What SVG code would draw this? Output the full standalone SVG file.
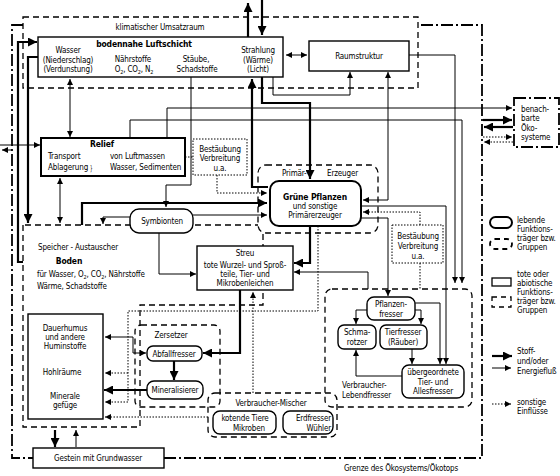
<svg xmlns="http://www.w3.org/2000/svg" width="560" height="476" viewBox="0 0 560 476">
<defs>
<style>
text{font-family:"Liberation Sans Narrow","DejaVu Sans Condensed","Liberation Sans",sans-serif;font-size:8px;letter-spacing:-0.15px;fill:#000}
.c{text-anchor:middle}
.e{text-anchor:end}
.b{font-weight:bold;font-size:8.5px}
.t{fill:none;stroke:#000;stroke-width:1}
.k{fill:none;stroke:#000;stroke-width:2.2}
.d{fill:none;stroke:#000;stroke-width:1.3;stroke-dasharray:6 4}
.o{fill:none;stroke:#000;stroke-width:1;stroke-dasharray:1.5 1.5}
.dd{fill:none;stroke:#000;stroke-width:1.8;stroke-dasharray:12 3 2 3}
.box{fill:#fff;stroke:#000;stroke-width:1.4}
.bx2{fill:#fff;stroke:#000;stroke-width:2}
.ob{fill:#fff;stroke:#000;stroke-width:1;stroke-dasharray:1.5 1.5}
.db{fill:none;stroke:#000;stroke-width:1.3;stroke-dasharray:6 4}
</style>
<marker id="a" viewBox="0 0 10 10" refX="10" refY="5" markerWidth="7" markerHeight="6" orient="auto-start-reverse" markerUnits="userSpaceOnUse"><path d="M0,0L10,5L0,10z"/></marker>
<marker id="A" viewBox="0 0 10 10" refX="10" refY="5" markerWidth="11" markerHeight="9" orient="auto-start-reverse" markerUnits="userSpaceOnUse"><path d="M0,0L10,5L0,10z"/></marker>
</defs>

<!-- boundaries -->
<g id="boundary">
<path class="dd" d="M23 25H12V458H33"/>
<path class="dd" d="M164 458H482V25H418"/>
<text class="c" x="401" y="471">Grenze des Ökosystems/Ökotops</text>
</g>
<g id="klima">
<rect class="db" x="23" y="17" width="395" height="71"/>
<text class="c" x="160" y="30">klimatischer Umsatzraum</text>
</g>
<g id="boden-zone">
<path class="d" d="M25 225H258M23 225V427H140V305H263V291M263 234V246"/>
<text x="38" y="250">Speicher - Austauscher</text>
<text class="c b" x="69" y="264">Boden</text>
<text x="37" y="277">für Wasser, O<tspan dy="2" font-size="5.5">2</tspan><tspan dy="-2">, CO</tspan><tspan dy="2" font-size="5.5">2</tspan><tspan dy="-2">, Nährstoffe</tspan></text>
<text x="37" y="289">Wärme, Schadstoffe</text>
</g>

<!-- connectors -->
<g id="connectors">
<path class="k" d="M248 37V3" marker-end="url(#A)"/>
<path class="k" d="M262 0V35" marker-end="url(#A)"/>
<path class="t" d="M286 55H307" marker-start="url(#a)" marker-end="url(#a)"/>
<path class="k" d="M38 57H28V223" marker-end="url(#A)"/>
<path class="k" d="M23 262H18V42H37" marker-end="url(#A)"/>
<path class="t" d="M0 145H40" marker-end="url(#a)"/>
<path class="t" d="M12 150H2" marker-end="url(#a)"/>
<path class="t" d="M70 79V137" marker-start="url(#a)" marker-end="url(#a)"/>
<path class="t" stroke-width="1.3" d="M60 178V223" marker-start="url(#a)" marker-end="url(#a)"/>
<path class="o" d="M185 157H193"/>
<path class="o" d="M217 175V193H267" marker-end="url(#a)"/>
<path class="t" d="M130 138V120H462V283" marker-end="url(#a)"/>
<path class="t" d="M167 138V108H512" marker-end="url(#a)"/>
<path class="t" d="M191 77V185H166V207" marker-end="url(#a)"/>
<path class="k" d="M262 77V103H310V179" marker-end="url(#A)"/>
<path class="k" d="M268 187H252V79" marker-end="url(#A)"/>
<path class="t" d="M273 77V95H350V72" marker-end="url(#a)"/>
<path class="t" d="M409 55H455V283" marker-end="url(#a)"/>
<path class="t" d="M363 200H388V72" marker-start="url(#a)" marker-end="url(#a)"/>
<path class="k" d="M82 225V203H267" marker-end="url(#A)"/>
<path class="t" d="M193 215H267" marker-end="url(#a)"/>
<path class="t" d="M130 217H103V224" marker-end="url(#a)"/>
<path class="t" d="M159 233V274H196" marker-end="url(#a)"/>
<path class="k" d="M310 226V263H294" marker-end="url(#A)"/>
<path class="t" d="M368 289V272H294" marker-end="url(#a)"/>
<path class="o" d="M253 393V292" marker-end="url(#a)"/>
<path class="k" d="M240 290V353H203" marker-end="url(#A)"/>
<path class="o" d="M318 226V311H128V402H105" marker-end="url(#a)"/>
<path class="o" d="M128 373H105" marker-end="url(#a)"/>
<path class="k" d="M174 361V380" marker-end="url(#A)"/>
<path class="k" d="M147 390H104" marker-end="url(#A)"/>
<path class="t" d="M146 353H133V337H105" marker-start="url(#a)" marker-end="url(#a)"/>
<path class="o" d="M208 417H105" marker-end="url(#a)"/>
<path class="k" d="M55 430V447" marker-end="url(#A)"/>
<path class="t" d="M76 447V430" marker-end="url(#a)"/>
<path class="t" d="M361 218H388V296" marker-end="url(#a)"/>
<path class="t" d="M367 310H356V324" marker-end="url(#a)"/>
<path class="t" d="M415 310H421V324" marker-end="url(#a)"/>
<path class="t" d="M415 303H440V364" marker-end="url(#a)"/>
<path class="t" d="M361 206H446V364" marker-end="url(#a)"/>
<path class="t" d="M412 349V364" marker-end="url(#a)"/>
<path class="t" d="M402 376H356V350" marker-end="url(#a)"/>
<path class="o" d="M420 225V212H363" marker-end="url(#a)"/>
<path class="o" d="M420 263V289"/>
<path class="k" d="M483 120H512" marker-end="url(#A)"/>
<path class="k" d="M513 127H484" marker-end="url(#A)"/>
<path class="o" d="M483 137H512" marker-end="url(#a)"/>
<path class="o" d="M513 142H484" marker-end="url(#a)"/>
</g>

<!-- nodes -->
<g id="luftschicht">
<rect class="box" x="38" y="37" width="245" height="40"/>
<text class="c b" x="144" y="47">bodennahe Luftschicht</text>
<text class="c" x="68" y="53">Wasser</text>
<text class="c" x="68" y="63">(Niederschlag)</text>
<text class="c" x="68" y="72">(Verdunstung)</text>
<text class="c" x="133" y="62">Nährstoffe</text>
<text class="c" x="134" y="72">O<tspan dy="2" font-size="5.5">2</tspan><tspan dy="-2">, CO</tspan><tspan dy="2" font-size="5.5">2</tspan><tspan dy="-2">, N</tspan><tspan dy="2" font-size="5.5">2</tspan></text>
<text class="c" x="196" y="62">Stäube,</text>
<text class="c" x="197" y="72">Schadstoffe</text>
<text class="c" x="258" y="53">Strahlung</text>
<text class="c" x="258" y="63">(Wärme)</text>
<text class="c" x="258" y="72">(Licht)</text>
</g>
<g id="raumstruktur">
<rect class="box" x="309" y="41" width="100" height="30"/>
<text class="c" x="359" y="59">Raumstruktur</text>
</g>
<g id="relief">
<rect class="bx2" x="41" y="138" width="144" height="38"/>
<text class="c b" x="102" y="147">Relief</text>
<text x="48" y="159">Transport</text>
<text x="48" y="170">Ablagerung</text>
<text x="0" y="0" font-size="24" transform="translate(90 170.5) scale(0.55 1)">}</text>
<text x="110" y="159">von Luftmassen</text>
<text x="110" y="170">Wasser, Sedimenten</text>
</g>
<g id="bestaeubung1">
<rect class="ob" x="193" y="139" width="54" height="36"/>
<text class="c" x="220" y="152">Bestäubung</text>
<text class="c" x="220" y="161">Verbreitung</text>
<text class="c" x="220" y="171">u.a.</text>
</g>
<g id="primaer">
<rect class="db" x="258" y="165" width="120" height="68" rx="8"/>
<text x="282" y="176">Primär-</text>
<text x="327" y="176">Erzeuger</text>
</g>
<g id="pflanzen">
<rect class="bx2" x="270" y="181" width="91" height="45" rx="9"/>
<text class="c b" x="315" y="200">Grüne Pflanzen</text>
<text class="c" x="315" y="209">und sonstige</text>
<text class="c" x="315" y="218">Primärerzeuger</text>
</g>
<g id="symbionten">
<rect class="box" x="130" y="209" width="63" height="24" rx="9"/>
<text class="c" x="162" y="224">Symbionten</text>
</g>
<g id="streu">
<rect class="box" x="197" y="246" width="96" height="44"/>
<text class="c" x="245" y="256">Streu</text>
<text class="c" x="245" y="268">tote Wurzel- und Sproß-</text>
<text class="c" x="245" y="277">teile, Tier- und</text>
<text class="c" x="245" y="286">Mikrobenleichen</text>
</g>
<g id="bestaeubung2">
<rect class="ob" x="392" y="225" width="51" height="38"/>
<text class="c" x="418" y="239">Bestäubung</text>
<text class="c" x="418" y="249">Verbreitung</text>
<text class="c" x="418" y="259">u.a.</text>
</g>
<g id="dauerhumus">
<rect class="box" x="28" y="314" width="75" height="105"/>
<text class="c" x="65" y="331">Dauerhumus</text>
<text class="c" x="65" y="340">und andere</text>
<text class="c" x="65" y="349">Huminstoffe</text>
<text class="c" x="62" y="375">Hohlräume</text>
<text class="c" x="65" y="399">Minerale</text>
<text class="c" x="65" y="408">gefüge</text>
</g>
<g id="zersetzer">
<rect class="db" x="135" y="325" width="85" height="82" rx="6"/>
<text class="c" x="171" y="338">Zersetzer</text>
</g>
<g id="abfallfresser">
<rect class="box" x="147" y="346" width="55" height="15" rx="6"/>
<text class="c" x="174" y="356.5">Abfallfresser</text>
</g>
<g id="mineralisierer">
<rect class="box" x="147" y="381" width="56" height="18" rx="7"/>
<text class="c" x="175" y="393">Mineralisierer</text>
</g>
<g id="gestein">
<rect class="box" x="33" y="448" width="131" height="20"/>
<text class="c" x="98" y="461">Gestein mit Grundwasser</text>
</g>
<g id="mischer">
<rect class="db" x="208" y="393" width="129" height="44" rx="7"/>
<text class="c" x="271" y="406">Verbraucher-Mischer</text>
</g>
<g id="kotende">
<rect class="box" x="213" y="411" width="63" height="23" rx="7"/>
<text class="c" x="245" y="421">kotende Tiere</text>
<text class="c" x="249" y="431">Mikroben</text>
</g>
<g id="erdfresser">
<rect class="box" x="283" y="411" width="50" height="23" rx="7"/>
<text class="e" x="331" y="421">Erdfresser</text>
<text class="e" x="331" y="431">Wühler</text>
</g>
<g id="lebendfresser">
<rect class="db" x="325" y="289" width="147" height="118" rx="7"/>
<text x="342" y="388">Verbraucher-</text>
<text x="342" y="398">Lebendfresser</text>
</g>
<g id="pflanzenfresser">
<rect class="box" x="367" y="297" width="48" height="23" rx="7"/>
<text class="c" x="391" y="307">Pflanzen-</text>
<text class="c" x="391" y="317">fresser</text>
</g>
<g id="schmarotzer">
<rect class="box" x="338" y="325" width="38" height="24" rx="6"/>
<text class="c" x="357" y="335">Schma-</text>
<text class="c" x="357" y="345">rotzer</text>
</g>
<g id="tierfresser">
<rect class="box" x="380" y="325" width="47" height="24" rx="6"/>
<text class="c" x="403" y="335">Tierfresser</text>
<text class="c" x="403" y="345">(Räuber)</text>
</g>
<g id="uebergeordnete">
<rect class="box" x="402" y="365" width="62" height="33" rx="7"/>
<text class="c" x="433" y="375">übergeordnete</text>
<text class="c" x="433" y="385">Tier- und</text>
<text class="c" x="433" y="394">Allesfresser</text>
</g>
<g id="benachbarte">
<rect fill="#fff" class="dd" x="514" y="98" width="45" height="49"/>
<text x="521" y="112">benach-</text>
<text x="521" y="121">barte</text>
<text x="521" y="131">Öko-</text>
<text x="521" y="140">systeme</text>
</g>
<g id="legend">
<rect fill="none" stroke="#000" stroke-width="2" x="490" y="217" width="22" height="11" rx="5.5"/>
<rect fill="none" stroke="#000" stroke-width="1.8" stroke-dasharray="5 4" x="490" y="239" width="22" height="10" rx="5"/>
<text x="517" y="223">lebende</text>
<text x="517" y="232">Funktions-</text>
<text x="517" y="241">träger bzw.</text>
<text x="517" y="250">Gruppen</text>
<rect fill="none" stroke="#000" stroke-width="1.3" x="492" y="278" width="19" height="8"/>
<rect fill="none" stroke="#000" stroke-width="1.3" stroke-dasharray="5 4" x="492" y="297" width="19" height="10"/>
<text x="517" y="277">tote oder</text>
<text x="517" y="286">abiotische</text>
<text x="517" y="295">Funktions-</text>
<text x="517" y="304">träger bzw.</text>
<text x="517" y="313">Gruppen</text>
<path class="k" d="M492 356H512" marker-end="url(#A)"/>
<path class="t" d="M492 368H511" marker-end="url(#a)"/>
<text x="517" y="354">Stoff-</text>
<text x="517" y="364">und/oder</text>
<text x="517" y="374">Energiefluß</text>
<path class="o" d="M492 404H511" marker-end="url(#a)"/>
<text x="517" y="405">sonstige</text>
<text x="517" y="414">Einflüsse</text>
</g>
</svg>
